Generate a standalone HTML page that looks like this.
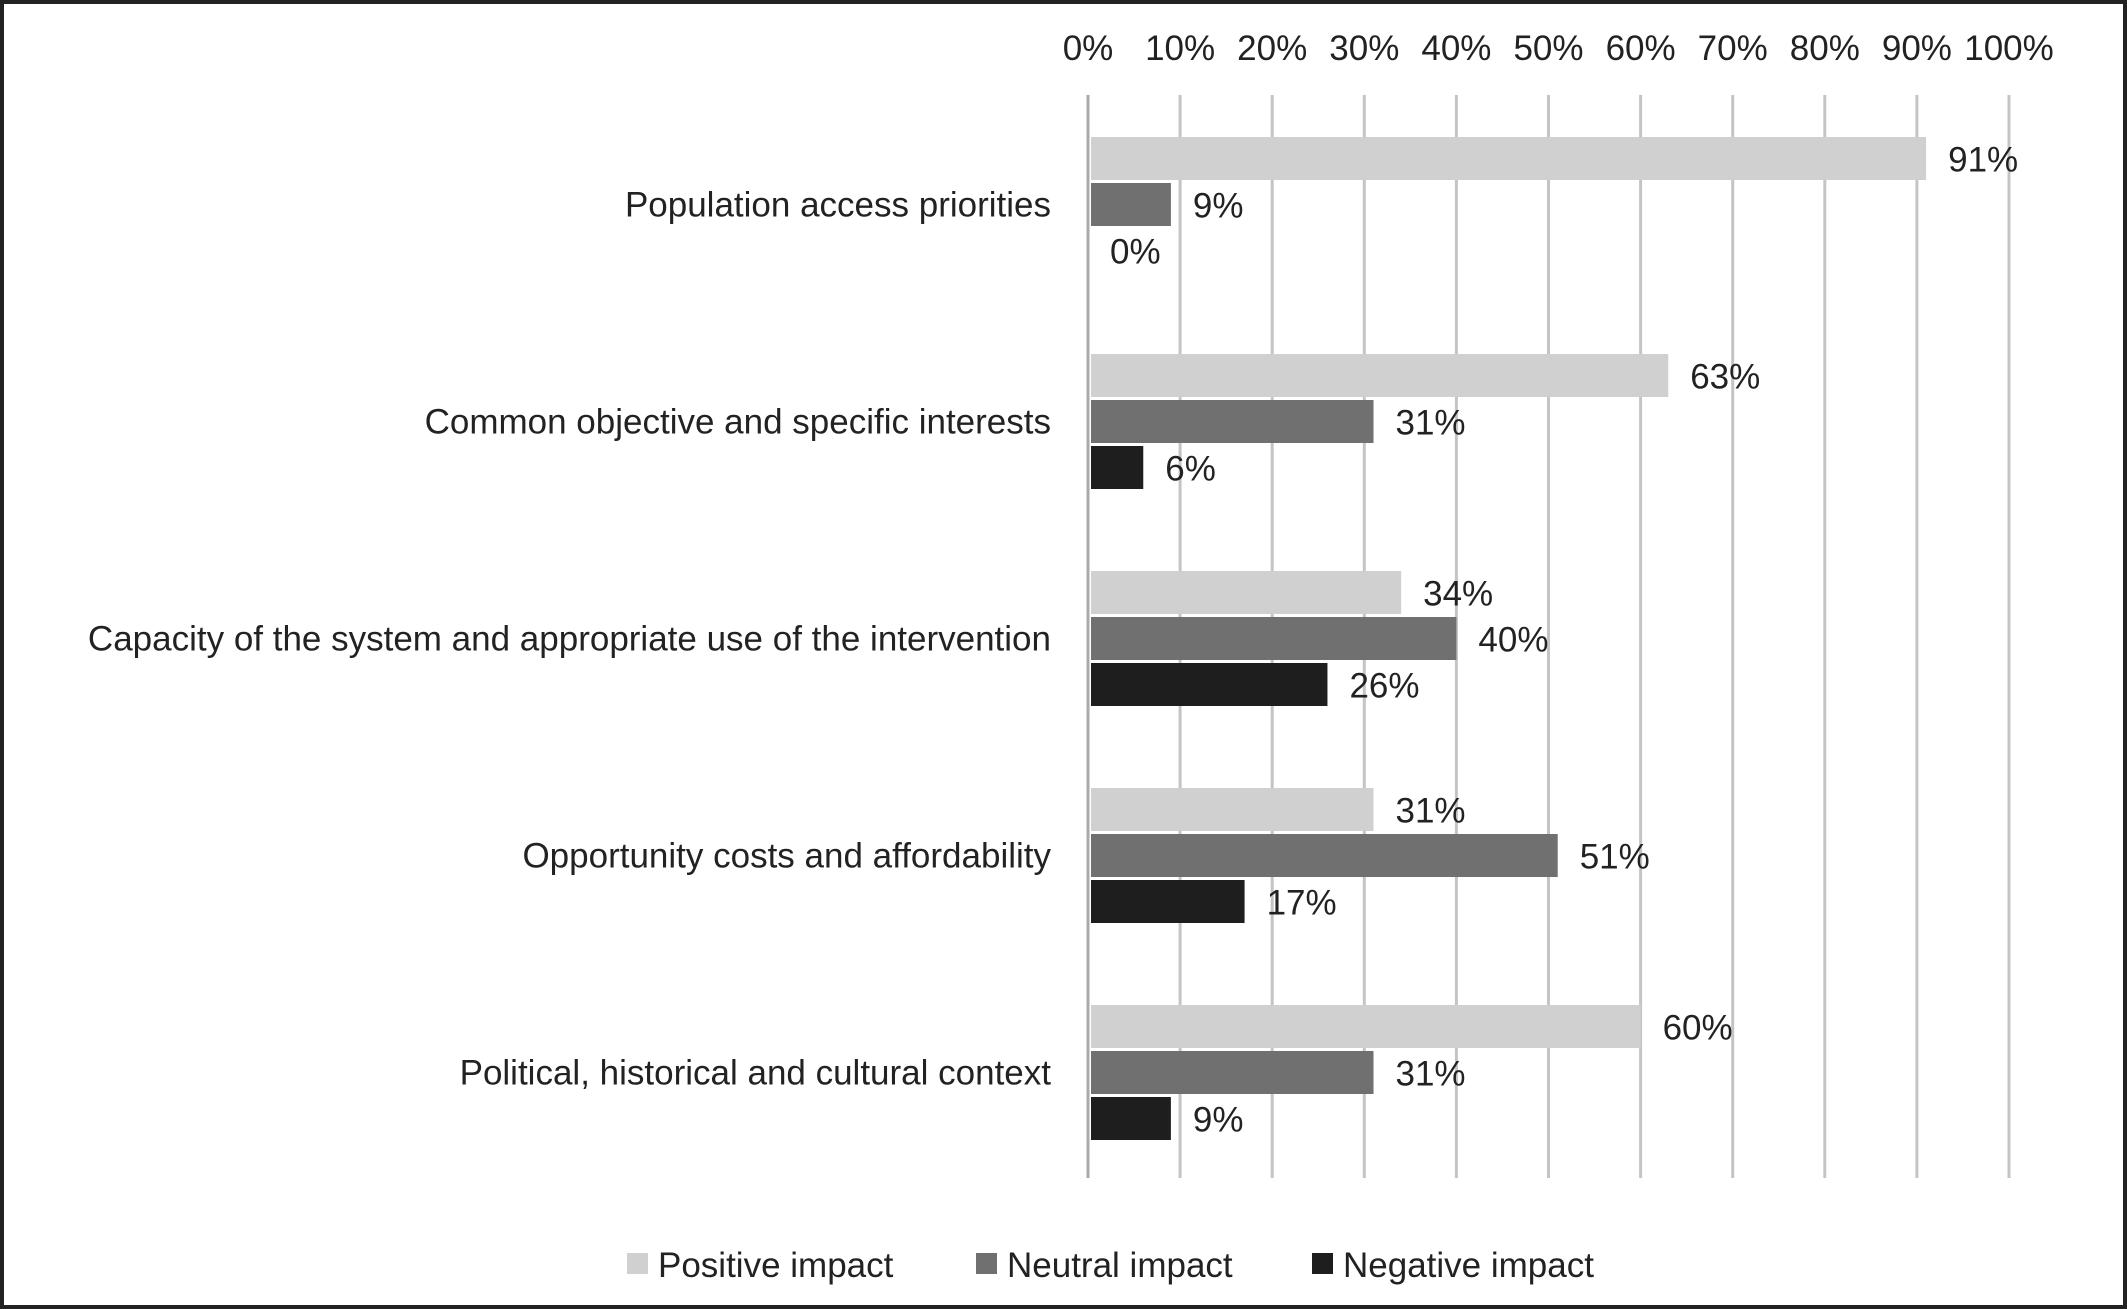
<!DOCTYPE html>
<html><head><meta charset="utf-8">
<style>
html,body{margin:0;padding:0;background:#fff;}
svg{display:block;font-family:"Liberation Sans",Arial,sans-serif;}
</style></head>
<body>
<svg id="chart" width="2127" height="1309" viewBox="0 0 2127 1309" xmlns="http://www.w3.org/2000/svg">
<rect x="2" y="2" width="2123" height="1305" fill="#fff" stroke="#222" stroke-width="4"/>
<g id="grid"></g>
<g id="bars"></g>
<g id="legend"></g>
</svg>
<script>
const categories = ["Population access priorities","Common objective and specific interests","Capacity of the system and appropriate use of the intervention","Opportunity costs and affordability","Political, historical and cultural context"];
const positiveValues = [91, 63, 34, 31, 60];
const neutralValues = [9, 31, 40, 51, 31];
const negativeValues = [0, 6, 26, 17, 9];
const tickValues = [0,10,20,30,40,50,60,70,80,90,100];
const seriesNames = ["Positive impact","Neutral impact","Negative impact"];

const NS = "http://www.w3.org/2000/svg";
const FS = 35;
const x0 = 1088, x100 = 2009;
const xs = v => x0 + (x100 - x0) * v / 100;
const groupTop = i => 137 + i * 217;
const barH = 43, barGap = 3;
const colors = ["#d0d0d0","#707070","#1e1e1e"];
function mk(tag, attrs, parent){const e=document.createElementNS(NS,tag);for(const k in attrs)e.setAttribute(k,attrs[k]);parent.appendChild(e);return e;}
const grid=document.getElementById('grid'), bars=document.getElementById('bars'), legend=document.getElementById('legend');

tickValues.forEach(t=>{
  const l=mk('line',{x1:xs(t),x2:xs(t),y1:95,y2:1178,stroke:'#c4c4c4','stroke-width':3},grid);
  
  
  const tx=mk('text',{x:xs(t),y:60,'text-anchor':'middle','font-size':FS,fill:'#222'},grid);
  tx.textContent=t+'%';
  
  
});
const ax=mk('line',{x1:x0,x2:x0,y1:95,y2:1178,stroke:'#aaa','stroke-width':3},grid);



const series=[positiveValues,neutralValues,negativeValues];
categories.forEach((c,i)=>{
  const top=groupTop(i);
  const lab=mk('text',{x:1051,y:top+barH+barGap+barH/2+12,'text-anchor':'end','font-size':FS,fill:'#222'},bars);
  lab.textContent=c;
  
  
  series.forEach((vals,s)=>{
    const y=top+s*(barH+barGap);
    const v=vals[i];
    const r=mk('rect',{x:x0+3,y:y,width:Math.max(0,xs(v)-x0-3),height:barH,fill:colors[s]},bars);
    
    
    const t=mk('text',{x:xs(v)+22,y:y+barH/2+13,'font-size':FS,fill:'#222'},bars);
    t.textContent=v+'%';
    
    
  });
});

const legX=[627,976,1312];
seriesNames.forEach((n,s)=>{
  const r=mk('rect',{x:legX[s],y:1253,width:21,height:21,fill:colors[s]},legend);
  
  
  const t=mk('text',{x:legX[s]+31,y:1277,'font-size':FS,fill:'#222'},legend);
  t.textContent=n;
  
  
});
</script>
</body></html>
